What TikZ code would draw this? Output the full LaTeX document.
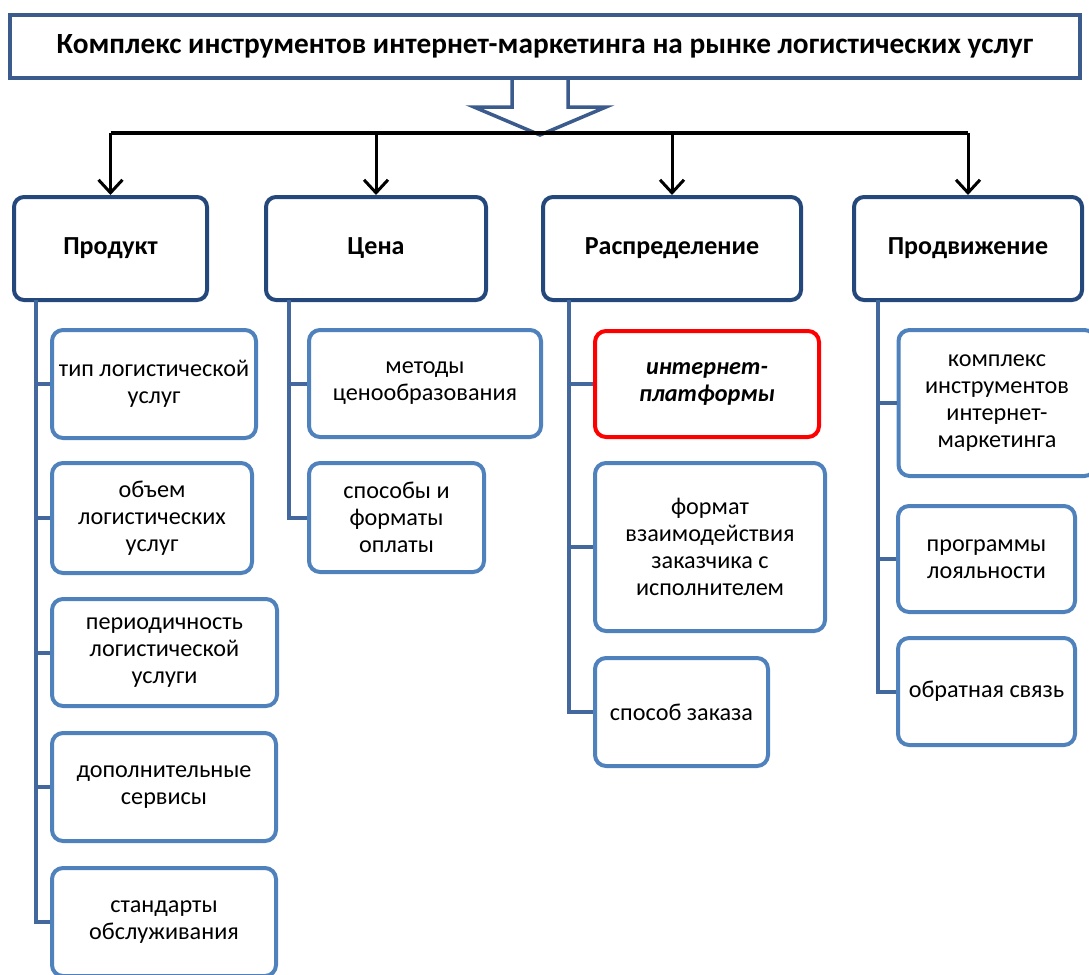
\documentclass[tikz,border=0pt]{standalone}
\usepackage{fontspec}
\setmainfont{Carlito}
\usepackage{tikz}
\usetikzlibrary{arrows.meta}

\definecolor{titleblue}{RGB}{59,91,140}
\definecolor{catblue}{RGB}{36,72,124}
\definecolor{itemblue}{RGB}{79,129,189}
\definecolor{trunkblue}{RGB}{66,104,158}

\begin{document}
\begin{tikzpicture}[x=1pt,y=1pt,yscale=-1,xscale=1,
  catbox/.style={draw=catblue, line width=4pt, rounded corners=10pt, fill=white,
    align=center, font=\fontsize{26}{31}\selectfont\bfseries},
  itembox/.style={draw=itemblue, line width=4pt, rounded corners=11pt, fill=white,
    align=center, font=\fontsize{24.2}{27}\selectfont},
  trunk/.style={draw=trunkblue, line width=4pt},
  downarr/.style={line width=3pt, -{Straight Barb[length=13pt,width=24pt]}}]
\useasboundingbox (0,0) rectangle (1089,974);

%hollow arrow under the title
\draw [titleblue, line width=3.5pt, fill=white, line join=miter]
  (512,70) -- (512,107) -- (474,107) -- (540,135) -- (606,107) -- (568,107) -- (568,70) ;

% Title
\node [draw=titleblue, line width=4pt, fill=white, minimum width=1070pt, minimum height=63pt,
  font=\fontsize{29.3}{34}\selectfont\bfseries] (title) at (545,46.5)
  {Комплекс инструментов интернет-маркетинга на рынке логистических услуг};

% top bar
\coordinate (bar) at (540,133);

% categories
\node [catbox, minimum width=193pt, minimum height=103pt] (prod) at (110.5,248.5) {Продукт};
\node [catbox, minimum width=220pt, minimum height=103pt] (price) at (376,248.5) {Цена};
\node [catbox, minimum width=258pt, minimum height=103pt] (dist) at (672,248.5) {Распределение};
\node [catbox, minimum width=228pt, minimum height=103pt] (promo) at (968,248.5) {Продвижение};

\draw [line width=4pt] (prod.north |- bar) -- (promo.north |- bar) ;
\draw [downarr] (prod.north |- bar) -- (prod.north) ;
\draw [downarr] (price.north |- bar) -- (price.north) ;
\draw [downarr] (dist.north |- bar) -- (dist.north) ;
\draw [downarr] (promo.north |- bar) -- (promo.north) ;

% Product items
\node [itembox, minimum width=204pt, minimum height=108pt] (prod1) at (154,384) {тип логистической\\услуг};
\node [itembox, minimum width=200pt, minimum height=110pt] (prod2) at (152,518) {объем\\логистических\\услуг};
\node [itembox, minimum width=225pt, minimum height=107pt] (prod3) at (164.5,652.5) {периодичность\\логистической\\услуги};
\node [itembox, minimum width=224pt, minimum height=108pt] (prod4) at (164,787) {дополнительные\\сервисы};
\node [itembox, minimum width=224pt, minimum height=108pt] (prod5) at (164,922) {стандарты\\обслуживания};

% Price items
\node [itembox, minimum width=232pt, minimum height=107pt] (price1) at (425,383.5) {методы\\ценообразования};
\node [itembox, minimum width=175pt, minimum height=109pt] (price2) at (396.5,517.5) {способы и\\форматы\\оплаты};

% Distribution items
\node [itembox, draw=red, minimum width=224pt, minimum height=106pt,
  font=\fontsize{24.2}{27}\selectfont\bfseries\itshape] (dist1) at (707,384) {интернет-\\платформы};
\node [itembox, minimum width=230pt, minimum height=168pt] (dist2) at (710,547) {формат\\взаимодействия\\заказчика с\\исполнителем};
\node [itembox, minimum width=173pt, minimum height=108pt] (dist3) at (681.5,712) {способ заказа};

% Promotion items
\node [itembox, minimum width=197pt, minimum height=146pt] (promo1) at (997,403) {комплекс\\инструментов\\интернет-\\маркетинга};
\node [itembox, minimum width=177pt, minimum height=106pt] (promo2) at (986.5,559) {программы\\лояльности};
\node [itembox, minimum width=177pt, minimum height=107pt] (promo3) at (986.5,691.5) {обратная связь};

% trunks
\coordinate (prodtop) at (36,300);
\coordinate (pricetop) at (289,300);
\coordinate (disttop) at (569,300);
\coordinate (promotop) at (878,300);

\foreach \i in {1,...,5} \draw [trunk] (prodtop) |- (prod\i.west) ;
\foreach \i in {1,2} \draw [trunk] (pricetop) |- (price\i.west) ;
\foreach \i in {1,2,3} \draw [trunk] (disttop) |- (dist\i.west) ;
\foreach \i in {1,2,3} \draw [trunk] (promotop) |- (promo\i.west) ;

\end{tikzpicture}
\end{document}
